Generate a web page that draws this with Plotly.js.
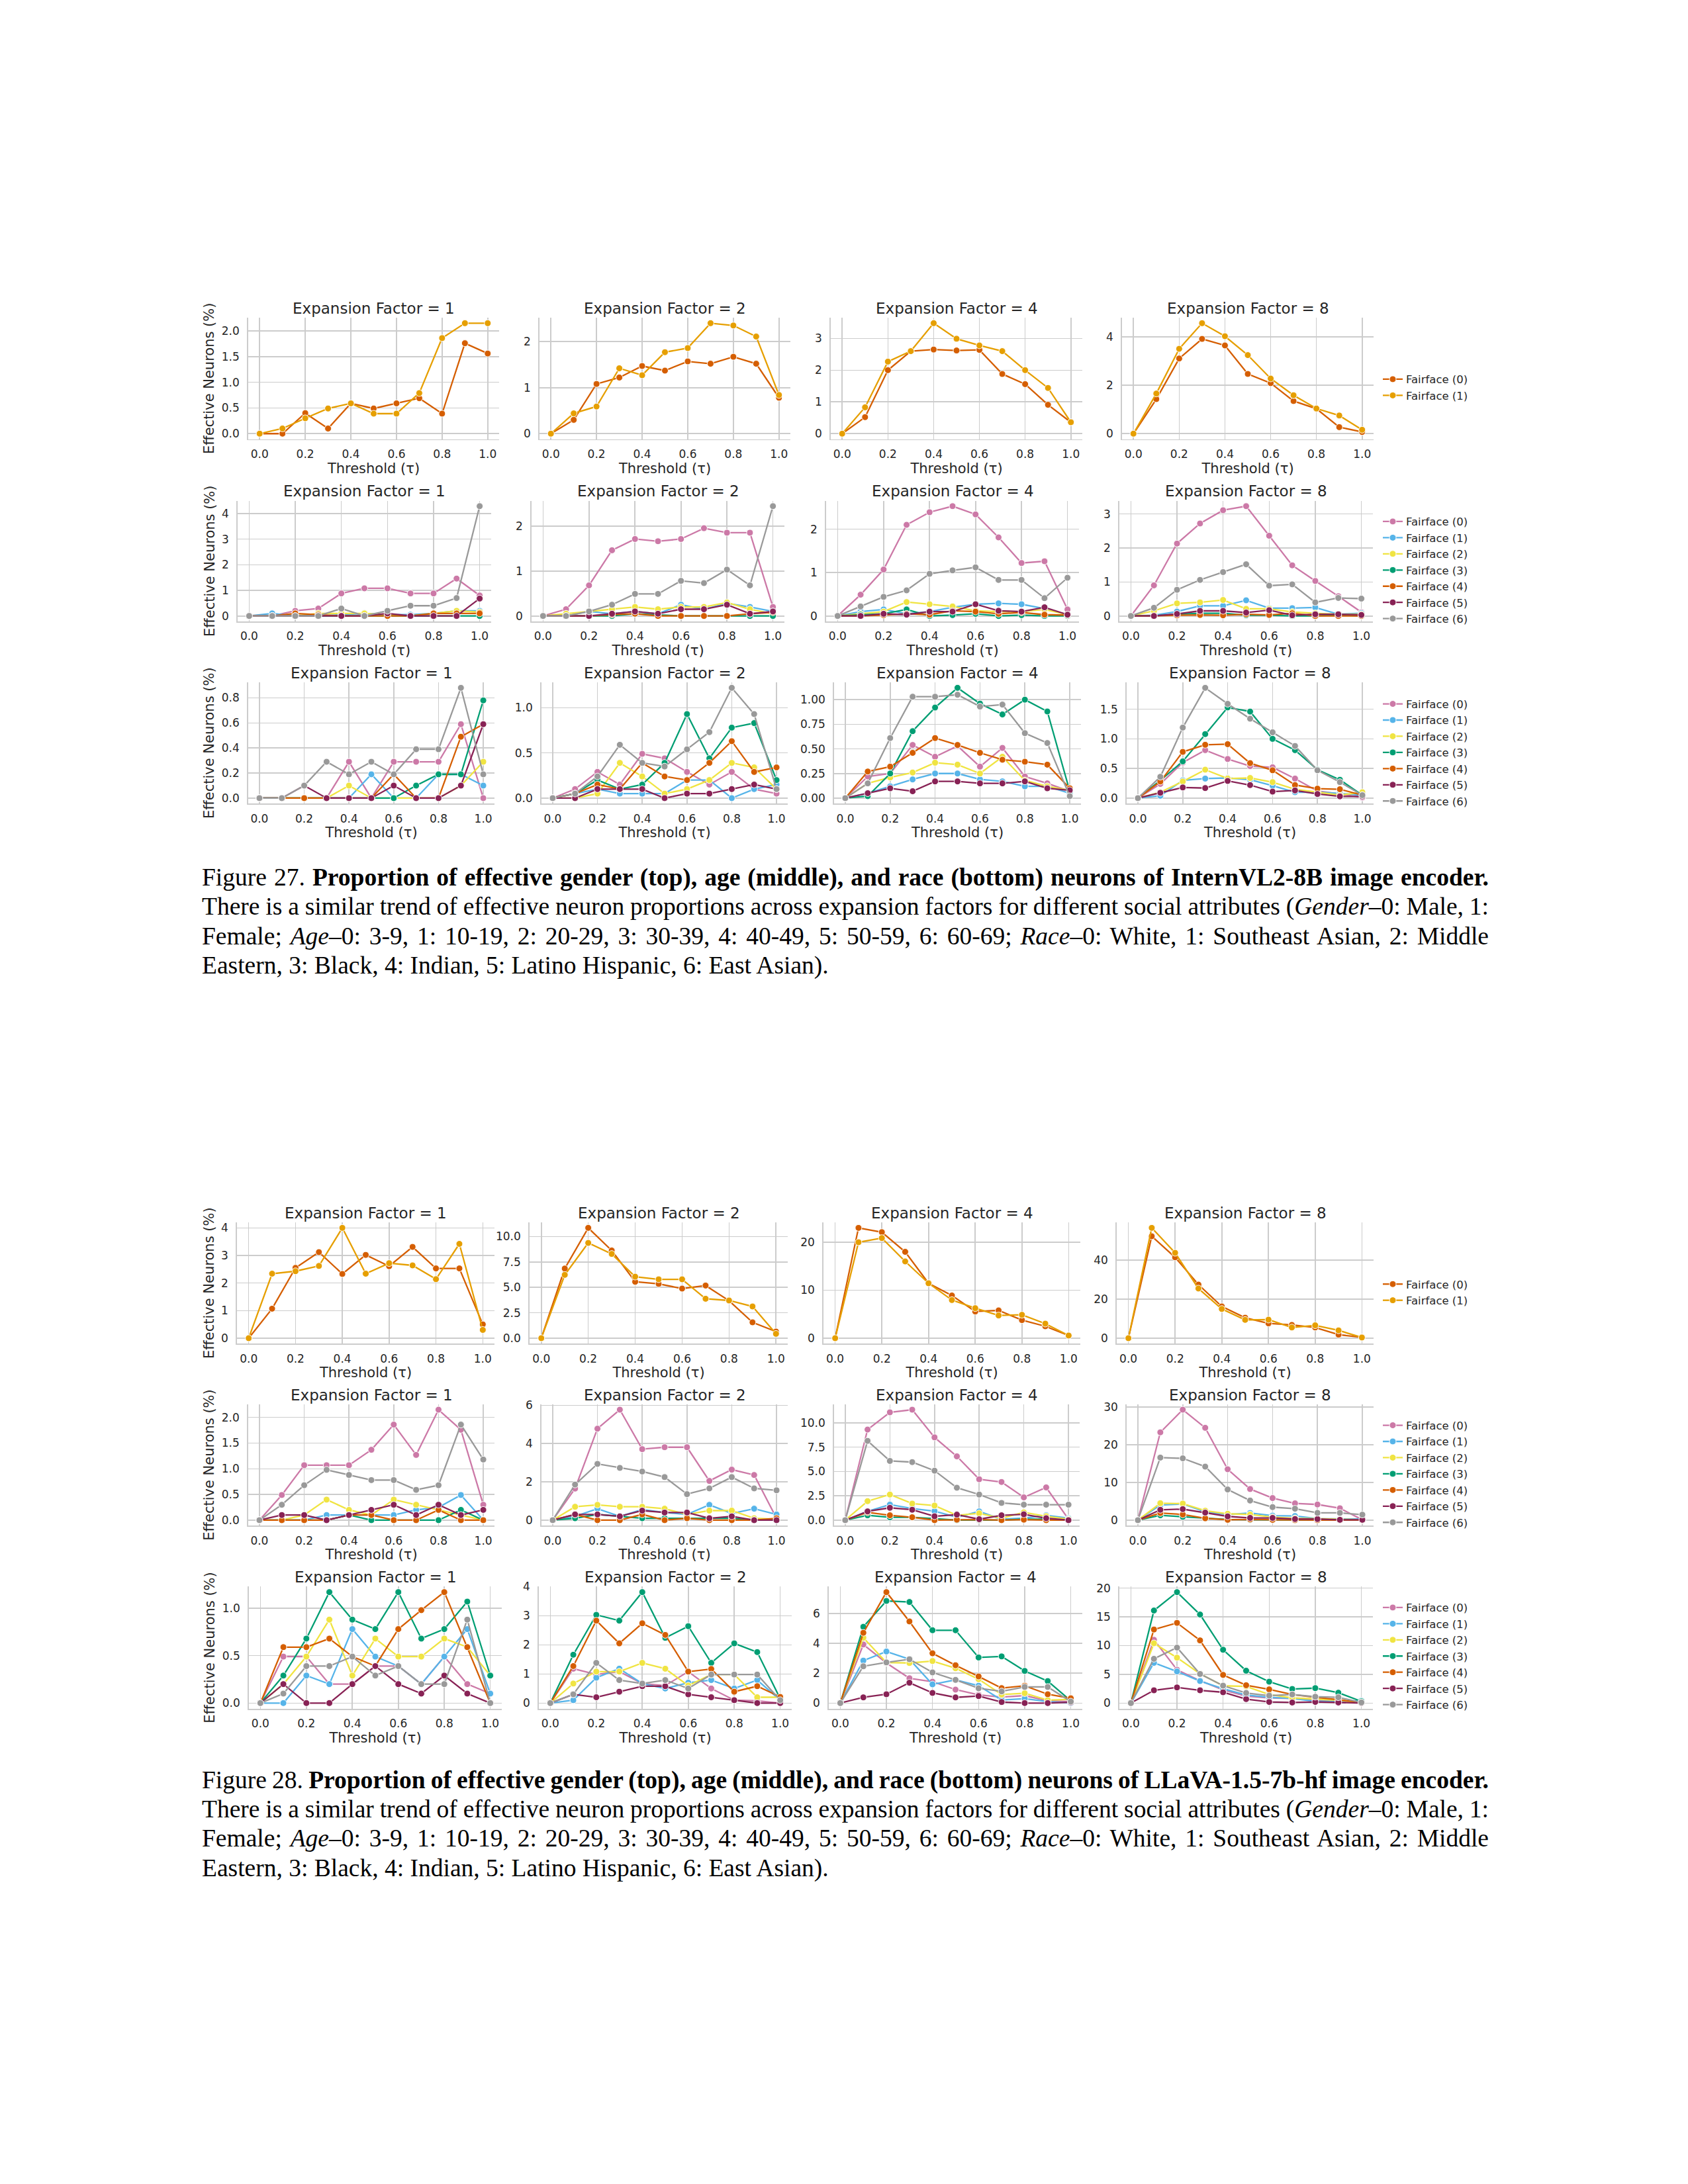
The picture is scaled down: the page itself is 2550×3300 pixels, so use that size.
<!DOCTYPE html>
<html>
<head>
<meta charset="utf-8">
<script src="https://cdn.plot.ly/plotly-3.0.1.min.js"></script>
<style>
  html, body { margin: 0; padding: 0; background: #ffffff; }
  #chart { position: absolute; left: 0; top: 0; width: 2550px; height: 3300px; }
  .capline { position: absolute; left: 305px; width: 1944px; height: 45px; line-height: 45px;
             font-family: 'Liberation Serif', 'Times New Roman', serif; font-size: 37.5px;
             color: #000; white-space: nowrap; }
</style>
</head>
<body>
<div id="chart"></div>
<div id="captions"></div>
<script>
// ---------------- DATA ----------------
const thresholds = [0, 0.1, 0.2, 0.3, 0.4, 0.5, 0.6, 0.7, 0.8, 0.9, 1.0];
const expansionFactors = [1, 2, 4, 8];
const xTickVals = [0, 0.2, 0.4, 0.6, 0.8, 1.0];
const genderSeries = ['Fairface (0)', 'Fairface (1)'];
const groupSeries = ['Fairface (0)', 'Fairface (1)', 'Fairface (2)', 'Fairface (3)', 'Fairface (4)', 'Fairface (5)', 'Fairface (6)'];

// ---- Figure 27: InternVL2-8B ----
const internGender1 = [
  [0, 0, 0.40, 0.10, 0.59, 0.49, 0.59, 0.69, 0.39, 1.76, 1.56],
  [0, 0.10, 0.30, 0.49, 0.59, 0.39, 0.39, 0.79, 1.86, 2.15, 2.15]];
const internGender2 = [
  [0, 0.30, 1.08, 1.22, 1.47, 1.37, 1.57, 1.52, 1.67, 1.52, 0.78],
  [0, 0.44, 0.59, 1.42, 1.27, 1.77, 1.86, 2.40, 2.35, 2.11, 0.84]];
const internGender4 = [
  [0, 0.52, 2.00, 2.60, 2.65, 2.62, 2.64, 1.88, 1.56, 0.91, 0.36],
  [0, 0.83, 2.27, 2.60, 3.48, 2.99, 2.78, 2.60, 2.00, 1.44, 0.36]];
const internGender8 = [
  [0, 1.43, 3.11, 3.92, 3.65, 2.47, 2.09, 1.35, 1.03, 0.27, 0.07],
  [0, 1.66, 3.51, 4.57, 4.03, 3.25, 2.28, 1.59, 1.04, 0.75, 0.16]];

const internAge1 = [
  [0, 0, 0.20, 0.29, 0.88, 1.08, 1.08, 0.88, 0.88, 1.46, 0.80],
  [0, 0.10, 0, 0, 0.05, 0.10, 0.05, 0.05, 0.10, 0.20, 0.20],
  [0, 0, 0, 0.10, 0.10, 0.10, 0.05, 0, 0.10, 0.20, 0.15],
  [0, 0, 0, 0, 0, 0, 0, 0, 0, 0, 0],
  [0, 0, 0.10, 0.05, 0, 0, 0, 0, 0.10, 0.10, 0.10],
  [0, 0, 0, 0, 0, 0, 0.10, 0, 0, 0, 0.68],
  [0, 0, 0, 0, 0.29, 0, 0.20, 0.40, 0.40, 0.70, 4.29]];
const internAge2 = [
  [0, 0.15, 0.68, 1.46, 1.71, 1.66, 1.71, 1.95, 1.85, 1.85, 0.20],
  [0, 0, 0.10, 0.05, 0.10, 0.05, 0.25, 0.15, 0.28, 0.20, 0.10],
  [0, 0.05, 0.10, 0.15, 0.20, 0.15, 0.20, 0.20, 0.30, 0.15, 0.05],
  [0, 0, 0, 0, 0.05, 0.03, 0, 0, 0, 0, 0],
  [0, 0, 0, 0.03, 0.05, 0, 0, 0, 0, 0.05, 0.08],
  [0, 0, 0, 0.05, 0.10, 0.05, 0.15, 0.15, 0.25, 0.05, 0.10],
  [0, 0, 0.10, 0.25, 0.49, 0.49, 0.78, 0.73, 1.03, 0.68, 2.44]];
const internAge4 = [
  [0, 0.49, 1.07, 2.10, 2.39, 2.53, 2.34, 1.81, 1.22, 1.26, 0.15],
  [0, 0.10, 0.15, 0.05, 0.10, 0.20, 0.27, 0.29, 0.27, 0.17, 0.03],
  [0, 0.05, 0.10, 0.32, 0.27, 0.22, 0.12, 0.10, 0.10, 0.15, 0.03],
  [0, 0.03, 0.05, 0.15, 0, 0.02, 0.05, 0, 0.02, 0, 0],
  [0, 0, 0.02, 0.05, 0.03, 0.12, 0.10, 0.05, 0.08, 0.03, 0.02],
  [0, 0, 0.05, 0.03, 0.10, 0.10, 0.27, 0.12, 0.10, 0.20, 0.03],
  [0, 0.22, 0.44, 0.59, 0.97, 1.05, 1.12, 0.83, 0.83, 0.41, 0.88]];
const internAge8 = [
  [0, 0.90, 2.13, 2.72, 3.11, 3.23, 2.36, 1.49, 1.03, 0.58, 0.11],
  [0, 0.02, 0.13, 0.30, 0.30, 0.46, 0.23, 0.23, 0.25, 0.05, 0.08],
  [0, 0.15, 0.37, 0.40, 0.47, 0.21, 0.21, 0.12, 0.08, 0.05, 0.05],
  [0, 0, 0.05, 0.08, 0.08, 0.02, 0.02, 0, 0, 0.03, 0],
  [0, 0, 0.02, 0.03, 0.02, 0.05, 0.03, 0.08, 0, 0, 0],
  [0, 0, 0.06, 0.15, 0.15, 0.10, 0.17, 0.02, 0.05, 0.05, 0.03],
  [0, 0.24, 0.77, 1.06, 1.29, 1.52, 0.89, 0.93, 0.40, 0.53, 0.51]];

const internRace1 = [
  [0, 0, 0, 0, 0.29, 0, 0.29, 0.29, 0.29, 0.59, 0],
  [0, 0, 0, 0, 0, 0.19, 0, 0, 0.19, 0.19, 0.10],
  [0, 0, 0, 0, 0.10, 0, 0, 0, 0, 0.10, 0.29],
  [0, 0, 0, 0, 0, 0, 0, 0.10, 0.19, 0.19, 0.78],
  [0, 0, 0, 0, 0, 0, 0.19, 0, 0, 0.49, 0.59],
  [0, 0, 0.10, 0, 0, 0, 0.10, 0, 0, 0.10, 0.59],
  [0, 0, 0.10, 0.29, 0.19, 0.29, 0.19, 0.39, 0.39, 0.88, 0.19]];
const internRace2 = [
  [0, 0.10, 0.29, 0.15, 0.49, 0.44, 0.29, 0.15, 0.29, 0.10, 0.05],
  [0, 0.05, 0.10, 0.05, 0.05, 0.05, 0.20, 0.20, 0, 0.10, 0.15],
  [0, 0, 0.05, 0.39, 0.24, 0.05, 0.10, 0.20, 0.39, 0.34, 0.10],
  [0, 0.05, 0.20, 0.10, 0.15, 0.39, 0.93, 0.44, 0.78, 0.83, 0.20],
  [0, 0.05, 0.15, 0.10, 0.39, 0.24, 0.20, 0.39, 0.63, 0.29, 0.34],
  [0, 0, 0.10, 0.10, 0.10, 0, 0.05, 0.05, 0.10, 0.15, 0.10],
  [0, 0.05, 0.24, 0.59, 0.39, 0.35, 0.54, 0.73, 1.22, 0.93, 0.10]];
const internRace4 = [
  [0, 0.22, 0.25, 0.54, 0.42, 0.53, 0.32, 0.51, 0.22, 0.15, 0.07],
  [0, 0.05, 0.12, 0.19, 0.25, 0.25, 0.19, 0.17, 0.12, 0.12, 0.05],
  [0, 0.15, 0.21, 0.26, 0.36, 0.34, 0.25, 0.42, 0.18, 0.12, 0.08],
  [0, 0.02, 0.25, 0.68, 0.92, 1.12, 0.96, 0.85, 1.00, 0.88, 0.07],
  [0, 0.27, 0.32, 0.46, 0.61, 0.54, 0.46, 0.39, 0.37, 0.34, 0.10],
  [0, 0.05, 0.10, 0.07, 0.17, 0.17, 0.15, 0.15, 0.17, 0.10, 0.08],
  [0, 0.15, 0.61, 1.03, 1.03, 1.05, 0.93, 0.95, 0.66, 0.56, 0.02]];
const internRace8 = [
  [0, 0.24, 0.60, 0.81, 0.66, 0.54, 0.52, 0.33, 0.12, 0.07, 0.01],
  [0, 0.04, 0.30, 0.33, 0.34, 0.31, 0.21, 0.10, 0.10, 0.08, 0.05],
  [0, 0.10, 0.28, 0.48, 0.33, 0.34, 0.27, 0.15, 0.10, 0.05, 0.10],
  [0, 0.30, 0.62, 1.08, 1.53, 1.46, 1.00, 0.81, 0.48, 0.31, 0.05],
  [0, 0.28, 0.78, 0.90, 0.91, 0.59, 0.47, 0.22, 0.16, 0.15, 0.05],
  [0, 0.09, 0.18, 0.17, 0.29, 0.22, 0.11, 0.13, 0.07, 0.03, 0.03],
  [0, 0.36, 1.19, 1.86, 1.59, 1.34, 1.11, 0.88, 0.47, 0.27, 0.05]];

// ---- Figure 28: LLaVA-1.5-7b-hf ----
const llavaGender1 = [
  [0, 1.07, 2.55, 3.12, 2.33, 3.02, 2.61, 3.31, 2.53, 2.53, 0.50],
  [0, 2.34, 2.43, 2.62, 4.00, 2.34, 2.72, 2.64, 2.14, 3.42, 0.30]];
const llavaGender2 = [
  [0, 6.85, 10.85, 8.63, 5.55, 5.34, 4.88, 5.18, 3.69, 1.56, 0.65],
  [0, 6.23, 9.37, 8.29, 6.05, 5.79, 5.79, 3.88, 3.71, 3.12, 0.43]];
const llavaGender4 = [
  [0, 22.99, 22.10, 18.00, 11.45, 8.90, 5.56, 5.79, 3.77, 2.48, 0.55],
  [0, 20.00, 20.87, 16.00, 11.45, 7.95, 6.25, 4.74, 4.87, 3.03, 0.55]];
const llavaGender8 = [
  [0, 52.3, 41.5, 27.5, 16.3, 10.5, 7.6, 6.8, 5.5, 1.8, 0.45],
  [0, 56.6, 43.8, 25.5, 15.0, 9.4, 9.5, 5.5, 6.6, 4.0, 0.35]];

const llavaAge1 = [
  [0, 0.49, 1.07, 1.07, 1.07, 1.37, 1.86, 1.27, 2.15, 1.76, 0.30],
  [0, 0, 0, 0.10, 0.10, 0.10, 0.10, 0.20, 0.25, 0.49, 0],
  [0, 0, 0.10, 0.40, 0.20, 0.10, 0.40, 0.30, 0.20, 0.10, 0],
  [0, 0, 0, 0, 0.10, 0, 0, 0, 0, 0.20, 0],
  [0, 0, 0, 0, 0.10, 0.10, 0, 0, 0.20, 0, 0],
  [0, 0.10, 0.10, 0, 0.10, 0.20, 0.30, 0.10, 0.30, 0.10, 0.20],
  [0, 0.30, 0.68, 0.98, 0.88, 0.78, 0.78, 0.59, 0.68, 1.86, 1.18]];
const llavaAge2 = [
  [0, 1.65, 4.78, 5.77, 3.71, 3.81, 3.81, 2.05, 2.64, 2.36, 0.10],
  [0, 0.20, 0.60, 0.20, 0.55, 0.40, 0.30, 0.80, 0.35, 0.60, 0.30],
  [0, 0.70, 0.80, 0.70, 0.70, 0.60, 0.30, 0.50, 0.50, 0.10, 0.05],
  [0, 0.10, 0.30, 0.20, 0.10, 0.10, 0.10, 0.10, 0.10, 0, 0],
  [0, 0.30, 0, 0, 0.30, 0, 0.10, 0, 0, 0, 0.10],
  [0, 0.30, 0.30, 0.20, 0.50, 0.40, 0.40, 0.10, 0.20, 0, 0],
  [0, 1.86, 2.94, 2.73, 2.54, 2.25, 1.36, 1.66, 2.25, 1.66, 1.56]];
const llavaAge4 = [
  [0, 9.30, 11.07, 11.34, 8.50, 6.55, 4.20, 3.92, 2.34, 3.36, 0.10],
  [0, 0.90, 1.60, 1.20, 0.93, 0.30, 0.90, 0.10, 0.20, 0.50, 0.20],
  [0, 1.95, 2.63, 1.70, 1.50, 0.50, 0.70, 0.20, 0.80, 0.40, 0.10],
  [0, 0.50, 0.30, 0.30, 0.15, 0, 0, 0, 0.10, 0.10, 0],
  [0, 0.80, 0.50, 0.30, 0, 0.05, 0.05, 0, 0.05, 0, 0],
  [0, 0.90, 1.27, 1.07, 0.40, 0.57, 0.10, 0.50, 0.60, 0.20, 0],
  [0, 8.14, 6.08, 5.96, 5.08, 3.33, 2.63, 1.77, 1.59, 1.59, 1.59]];
const llavaAge8 = [
  [0, 23.3, 29.3, 24.5, 13.5, 8.26, 5.86, 4.45, 4.16, 3.16, 0.10],
  [0, 4.0, 4.3, 2.2, 1.5, 1.9, 1.2, 1.1, 0.4, 0.3, 0.3],
  [0, 4.5, 4.4, 2.5, 1.7, 1.5, 0.8, 0.5, 0.4, 0.2, 0.1],
  [0, 1.3, 0.9, 0.5, 0.2, 0.1, 0.1, 0.1, 0.1, 0, 0],
  [0, 1.9, 1.5, 0.5, 0.1, 0.2, 0.1, 0, 0, 0, 0],
  [0, 2.75, 2.93, 2.0, 1.0, 0.6, 0.6, 0.3, 0.3, 0.1, 0.1],
  [0, 16.6, 16.4, 14.2, 8.14, 5.2, 3.46, 3.05, 1.93, 1.93, 1.46]];

const llavaRace1 = [
  [0, 0.49, 0.49, 0.20, 0.20, 0.39, 0.39, 0.20, 0.49, 0.20, 0.10],
  [0, 0, 0.29, 0.20, 0.78, 0.49, 0.39, 0.20, 0.49, 0.78, 0.10],
  [0, 0.20, 0.49, 0.88, 0.29, 0.68, 0.49, 0.49, 0.68, 0.59, 0.29],
  [0, 0.29, 0.68, 1.17, 0.88, 0.78, 1.17, 0.68, 0.78, 1.07, 0.29],
  [0, 0.59, 0.59, 0.68, 0.49, 0.39, 0.78, 0.98, 1.17, 0.59, 0],
  [0, 0.20, 0, 0, 0.20, 0.39, 0.20, 0.10, 0.29, 0.10, 0],
  [0, 0.10, 0.39, 0.39, 0.49, 0.29, 0.39, 0.20, 0.20, 0.88, 0]];
const llavaRace2 = [
  [0, 1.18, 0.98, 1.08, 0.67, 0.60, 1.08, 0.50, 0.10, 0.08, 0],
  [0, 0.10, 0.87, 1.18, 0.67, 0.50, 0.70, 0.79, 0.50, 0.79, 0.10],
  [0, 0.67, 1.08, 1.08, 1.38, 1.18, 0.60, 0.98, 0.98, 0.20, 0.20],
  [0, 1.66, 3.03, 2.83, 3.81, 2.24, 2.64, 1.38, 2.05, 1.75, 0.15],
  [0, 1.27, 2.83, 2.05, 2.74, 2.34, 1.08, 1.17, 0.39, 0.58, 0.21],
  [0, 0.30, 0.20, 0.39, 0.58, 0.58, 0.30, 0.20, 0.10, 0, 0],
  [0, 0.30, 1.38, 0.79, 0.67, 0.79, 0.50, 0.98, 0.98, 0.98, 0.10]];
const llavaRace4 = [
  [0, 3.92, 2.68, 1.66, 1.43, 0.90, 0.55, 0.40, 0.50, 0.15, 0.10],
  [0, 2.84, 3.45, 2.93, 1.25, 1.55, 1.16, 0.20, 0.30, 0.10, 0],
  [0, 4.37, 2.71, 2.68, 2.81, 2.33, 1.60, 0.57, 0.66, 0.20, 0.25],
  [0, 5.10, 6.83, 6.76, 4.87, 4.87, 3.05, 3.12, 2.15, 1.47, 0.15],
  [0, 4.70, 7.42, 5.46, 3.33, 2.53, 1.78, 1.00, 1.16, 0.59, 0.32],
  [0, 0.38, 0.59, 1.36, 0.68, 0.38, 0.47, 0.07, 0, 0, 0.05],
  [0, 2.46, 2.72, 2.93, 2.05, 1.55, 0.99, 0.78, 1.08, 1.08, 0.10]];
const llavaRace8 = [
  [0, 11.0, 5.8, 3.9, 2.3, 1.2, 0.9, 0.8, 0.5, 0.3, 0.1],
  [0, 7.0, 5.5, 3.83, 2.5, 1.4, 1.0, 0.8, 0.3, 0.3, 0.4],
  [0, 10.4, 7.9, 5.1, 3.0, 2.9, 1.5, 0.9, 0.7, 0.5, 0.1],
  [0, 16.1, 19.3, 15.4, 9.27, 5.63, 3.72, 2.45, 2.6, 1.8, 0.3],
  [0, 12.8, 13.95, 10.9, 4.9, 3.1, 2.38, 1.5, 1.0, 0.6, 0.1],
  [0, 2.22, 2.72, 2.22, 1.88, 0.69, 0.2, 0.1, 0.2, 0.1, 0],
  [0, 7.7, 9.65, 5.06, 3.03, 1.76, 1.3, 1.5, 1.1, 1.0, 0.1]];

// y tick steps / label formats per row (tick labels)
const internGenderTickStep = [0.5, 1, 1, 2];      const internGenderTickFmt = ['.1f', 'd', 'd', 'd'];
const internAgeTickStep = [1, 1, 1, 1];           const internAgeTickFmt = ['d', 'd', 'd', 'd'];
const internRaceTickStep = [0.2, 0.5, 0.25, 0.5]; const internRaceTickFmt = ['.1f', '.1f', '.2f', '.1f'];
const llavaGenderTickStep = [1, 2.5, 10, 20];     const llavaGenderTickFmt = ['d', '.1f', 'd', 'd'];
const llavaAgeTickStep = [0.5, 2, 2.5, 10];       const llavaAgeTickFmt = ['.1f', 'd', '.1f', 'd'];
const llavaRaceTickStep = [0.5, 1, 2, 5];         const llavaRaceTickFmt = ['.1f', 'd', 'd', 'd'];

// captions
const caption27 = [
  'Figure 27. <b>Proportion of effective gender (top), age (middle), and race (bottom) neurons of InternVL2-8B image encoder.</b>',
  'There is a similar trend of effective neuron proportions across expansion factors for different social attributes (<i>Gender</i>–0: Male, 1:',
  'Female; <i>Age</i>–0: 3-9, 1: 10-19, 2: 20-29, 3: 30-39, 4: 40-49, 5: 50-59, 6: 60-69; <i>Race</i>–0: White, 1: Southeast Asian, 2: Middle',
  'Eastern, 3: Black, 4: Indian, 5: Latino Hispanic, 6: East Asian).'];
const caption28 = [
  'Figure 28. <b>Proportion of effective gender (top), age (middle), and race (bottom) neurons of LLaVA-1.5-7b-hf image encoder.</b>',
  'There is a similar trend of effective neuron proportions across expansion factors for different social attributes (<i>Gender</i>–0: Male, 1:',
  'Female; <i>Age</i>–0: 3-9, 1: 10-19, 2: 20-29, 3: 30-39, 4: 40-49, 5: 50-59, 6: 60-69; <i>Race</i>–0: White, 1: Southeast Asian, 2: Middle',
  'Eastern, 3: Black, 4: Indian, 5: Latino Hispanic, 6: East Asian).'];

// ---------------- STYLE / GEOMETRY ----------------
const W = 2550, H = 3300;
const FONT = 'DejaVu Sans, Verdana, sans-serif';
const TXT = '#262626';
const GRID = '#cccccc';
const genderColors = ['#D55E00', '#E69F00'];
const groupColors = ['#CC79A7', '#56B4E9', '#F0E442', '#009E73', '#D55E00', '#882255', '#999999'];

const rowTop = [480, 756.5, 1031, 1847, 2121.7, 2397.3];
const rowBottom = [663.6, 939, 1214.3, 2030.3, 2305.3, 2581.7];
const colEdges = [
  [[375, 754], [815, 1194], [1255, 1635], [1695, 2075]],
  [[359, 742], [803, 1185], [1248, 1630], [1691, 2074]],
  [[375, 747], [818, 1190], [1260, 1633], [1702, 2075]],
  [[358, 747], [800, 1190], [1244, 1632], [1687, 2075]],
  [[375, 747], [818, 1190], [1260, 1631], [1702, 2075]],
  [[376, 758], [814, 1196], [1252, 1635], [1691, 2074]]];
const legendFirstCenter = [572.7, 787.7, 1063.3, 1940, 2153.3, 2428.7];
const legendX = 2084;
const captionTop = [1325.5, 2689];
const captionStep = 44.4;

const rows = [
  { panels: [internGender1, internGender2, internGender4, internGender8], names: genderSeries, colors: genderColors, steps: internGenderTickStep, fmts: internGenderTickFmt },
  { panels: [internAge1, internAge2, internAge4, internAge8], names: groupSeries, colors: groupColors, steps: internAgeTickStep, fmts: internAgeTickFmt },
  { panels: [internRace1, internRace2, internRace4, internRace8], names: groupSeries, colors: groupColors, steps: internRaceTickStep, fmts: internRaceTickFmt },
  { panels: [llavaGender1, llavaGender2, llavaGender4, llavaGender8], names: genderSeries, colors: genderColors, steps: llavaGenderTickStep, fmts: llavaGenderTickFmt },
  { panels: [llavaAge1, llavaAge2, llavaAge4, llavaAge8], names: groupSeries, colors: groupColors, steps: llavaAgeTickStep, fmts: llavaAgeTickFmt },
  { panels: [llavaRace1, llavaRace2, llavaRace4, llavaRace8], names: groupSeries, colors: groupColors, steps: llavaRaceTickStep, fmts: llavaRaceTickFmt }];

const traces = [];
const annotations = [];
const layout = {
  width: W, height: H, margin: { l: 0, r: 0, t: 0, b: 0 },
  paper_bgcolor: '#ffffff', plot_bgcolor: '#ffffff',
  font: { family: FONT, color: TXT }, hovermode: false
};

rows.forEach((row, r) => {
  const legName = r === 0 ? 'legend' : 'legend' + (r + 1);
  layout[legName] = {
    x: legendX / W, xanchor: 'left', xref: 'paper',
    y: 1 - (legendFirstCenter[r] - 17) / H, yanchor: 'top', yref: 'paper',
    font: { family: FONT, size: 16.5, color: TXT },
    bgcolor: 'rgba(0,0,0,0)', borderwidth: 0, tracegroupgap: 0, itemclick: false, itemdoubleclick: false
  };
  row.panels.forEach((panel, c) => {
    const k = r * 4 + c;
    const suf = k === 0 ? '' : String(k + 1);
    panel.forEach((ys, s) => {
      traces.push({
        type: 'scatter', mode: 'lines+markers', x: thresholds, y: ys,
        xaxis: 'x' + suf, yaxis: 'y' + suf, name: row.names[s],
        legend: legName, showlegend: c === 0,
        line: { color: row.colors[s], width: 2.3 },
        marker: { color: row.colors[s], size: 10, line: { color: '#ffffff', width: 1 } },
        hoverinfo: 'skip'
      });
    });
    const all = panel.flat();
    const ymax = Math.max(...all), ymin = Math.min(...all);
    const pad = 0.05 * (ymax - ymin);
    const [x0, x1] = colEdges[r][c];
    layout['xaxis' + suf] = {
      domain: [x0 / W, x1 / W], anchor: 'y' + suf, range: [-0.05, 1.05],
      tickmode: 'array', tickvals: xTickVals, tickformat: '.1f',
      showgrid: true, gridcolor: GRID, gridwidth: 1.6, zeroline: false,
      showline: true, linecolor: GRID, linewidth: 1.8, ticks: '',
      ticklabelstandoff: 6,
      tickfont: { family: FONT, size: 17, color: TXT },
      title: { text: 'Threshold (τ)', font: { family: FONT, size: 21, color: TXT }, standoff: 4 },
      automargin: false, fixedrange: true
    };
    const yax = {
      domain: [1 - rowBottom[r] / H, 1 - rowTop[r] / H], anchor: 'x' + suf,
      range: [ymin - pad, ymax + pad], tick0: 0, dtick: row.steps[c], tickformat: row.fmts[c],
      showgrid: true, gridcolor: GRID, gridwidth: 1.6, zeroline: false,
      showline: true, linecolor: GRID, linewidth: 1.8, ticks: '',
      ticklabelstandoff: 8,
      tickfont: { family: FONT, size: 17, color: TXT },
      automargin: false, fixedrange: true
    };
    if (c === 0) yax.title = { text: 'Effective Neurons (%)', font: { family: FONT, size: 21, color: TXT }, standoff: 5 };
    layout['yaxis' + suf] = yax;
    annotations.push({
      xref: 'paper', yref: 'paper', x: (x0 + x1) / 2 / W, y: 1 - (rowTop[r] - 14) / H,
      xanchor: 'center', yanchor: 'middle', showarrow: false,
      text: 'Expansion Factor = ' + expansionFactors[c],
      font: { family: FONT, size: 23, color: TXT }
    });
  });
});
layout.annotations = annotations;

Plotly.newPlot('chart', traces, layout, { staticPlot: true, displayModeBar: false });

// ---------------- CAPTIONS (justified like the source) ----------------
const capHost = document.getElementById('captions');
const capSpans = [];
[caption27, caption28].forEach((lines, f) => {
  lines.forEach((html, i) => {
    const d = document.createElement('div');
    d.className = 'capline';
    d.style.top = (captionTop[f] + i * captionStep - 22.5) + 'px';
    const sp = document.createElement('span');
    sp.innerHTML = html;
    d.appendChild(sp);
    capHost.appendChild(d);
    if (i < lines.length - 1) capSpans.push(sp);
  });
});
function justifyCaptions() {
  capSpans.forEach(sp => {
    sp.style.wordSpacing = '0px';
    const w = sp.getBoundingClientRect().width;
    const n = (sp.textContent.match(/ /g) || []).length;
    if (n > 0) sp.style.wordSpacing = ((1944 - w) / n) + 'px';
  });
}
justifyCaptions();
if (document.fonts && document.fonts.ready) document.fonts.ready.then(justifyCaptions);
</script>
</body>
</html>
